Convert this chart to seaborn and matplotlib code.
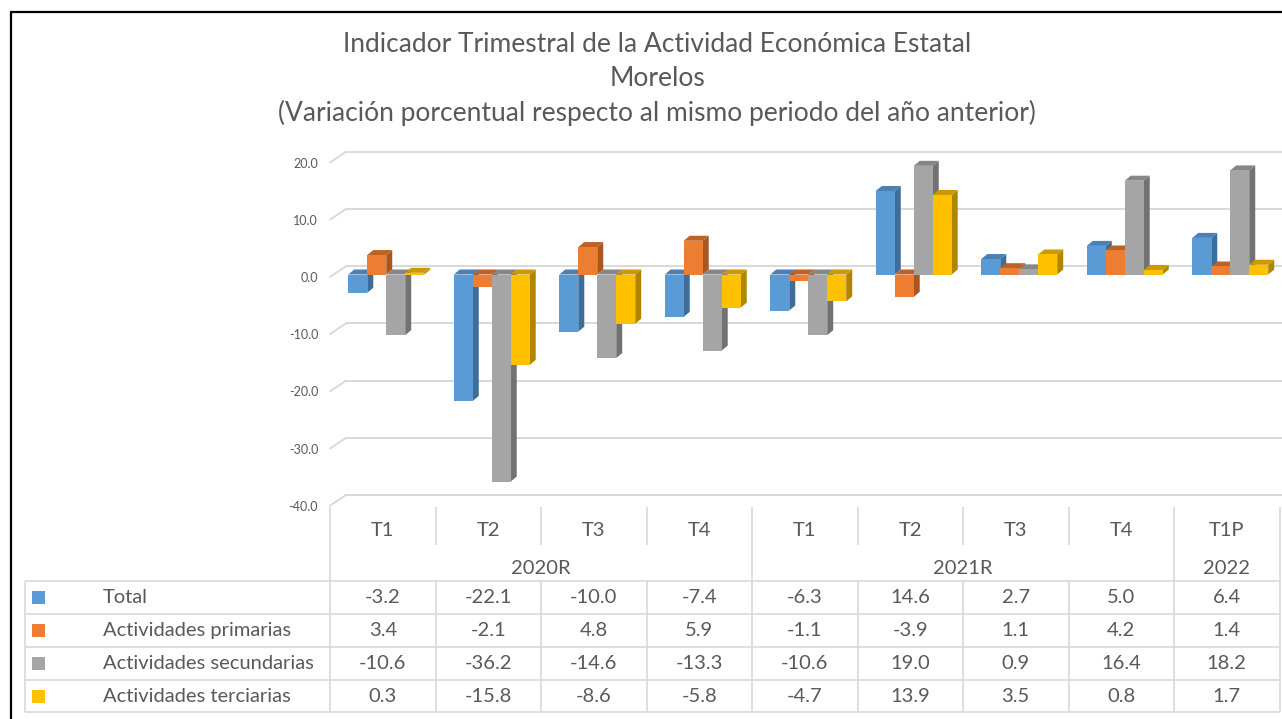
import numpy as np
import pandas as pd
import matplotlib
matplotlib.use("Agg")
import matplotlib.pyplot as plt
import seaborn as sns
from matplotlib.patches import Polygon, Rectangle
from matplotlib.lines import Line2D
from matplotlib.transforms import IdentityTransform, ScaledTranslation

# ---------------- data ----------------
quarters = ["T1", "T2", "T3", "T4", "T1", "T2", "T3", "T4", "T1P"]
years = ["2020R", "2021R", "2022"]
year_spans = [(0, 3), (4, 7), (8, 8)]
series = ["Total", "Actividades primarias", "Actividades secundarias", "Actividades terciarias"]
total = [-3.2, -22.1, -10.0, -7.4, -6.3, 14.6, 2.7, 5.0, 6.4]
primarias = [3.4, -2.1, 4.8, 5.9, -1.1, -3.9, 1.1, 4.2, 1.4]
secundarias = [-10.6, -36.2, -14.6, -13.3, -10.6, 19.0, 0.9, 16.4, 18.2]
terciarias = [0.3, -15.8, -8.6, -5.8, -4.7, 13.9, 3.5, 0.8, 1.7]
yticks = [20, 10, 0, -10, -20, -30, -40]

title_lines = ["Indicador Trimestral de la Actividad Económica Estatal",
               "Morelos",
               "(Variación porcentual respecto al mismo periodo del año anterior)"]

# ---------------- style ----------------
front_c = ["#5B9BD5", "#ED7D31", "#A5A5A5", "#FFC000"]
side_c = ["#3D6D98", "#A9561F", "#727272", "#B08500"]
top_c = ["#4A80B3", "#BE6127", "#868686", "#CC9A00"]
txt_c = "#595959"
grid_c = "#D9D9D9"
FONT = "Lato"

W, H = 1282, 719
DPI = 100
sns.set_theme(style="white")
plt.rcParams["font.family"] = [FONT, "DejaVu Sans"]

fig = plt.figure(figsize=(W / DPI, H / DPI), dpi=DPI)
fig.patch.set_facecolor("white")

# axes placement (pixels, top-origin)
ax_left, ax_right = 330, 1279.5
zero_px, px_per_unit = 274.5, 5.72
ymin, ymax = -40, 22
ax_top = zero_px - ymax * px_per_unit
ax_bot = zero_px - ymin * px_per_unit
ax = fig.add_axes([ax_left / W, 1 - ax_bot / H, (ax_right - ax_left) / W, (ax_bot - ax_top) / H])

# long-form data
idx = list(range(len(quarters)))
df = pd.DataFrame({
    "pos": idx * 4,
    "serie": sum([[s] * len(idx) for s in series], []),
    "valor": total + primarias + secundarias + terciarias,
})

sns.barplot(data=df, x="pos", y="valor", hue="serie", hue_order=series,
            palette=front_c, saturation=1, width=0.72, legend=False,
            errorbar=None, ax=ax, linewidth=0)

ax.set_xlim(-0.5, len(quarters) - 0.5)
ax.set_ylim(ymin, ymax)
ax.set_xlabel("")
ax.set_ylabel("")
ax.set_xticks([])
for s in ax.spines.values():
    s.set_visible(False)
ax.set_facecolor("none")

cat_px = (ax_right - ax_left) / len(quarters)
dx = 6 / cat_px           # depth in x (data units)
dy = 5 / px_per_unit      # depth in y (data units)
shift = 3.5 / cat_px

# 3D faces
for h_i, cont in enumerate(ax.containers):
    for p in cont.patches:
        p.set_x(p.get_x() + shift)
        x0 = p.get_x()
        w = p.get_width()
        y0 = min(p.get_y(), p.get_y() + p.get_height())
        y1 = max(p.get_y(), p.get_y() + p.get_height())
        cat = round(x0 + w / 2)
        z = 3 + cat * 0.1 + h_i * 0.01
        p.set_zorder(z + 0.005)
        p.set_edgecolor("none")
        side = Polygon([(x0 + w, y0), (x0 + w + dx, y0 + dy), (x0 + w + dx, y1 + dy), (x0 + w, y1)],
                       closed=True, facecolor=side_c[h_i], edgecolor="none", zorder=z)
        top = Polygon([(x0, y1), (x0 + dx, y1 + dy), (x0 + w + dx, y1 + dy), (x0 + w, y1)],
                      closed=True, facecolor=top_c[h_i], edgecolor="none", zorder=z)
        ax.add_patch(side)
        ax.add_patch(top)

# back-wall gridlines with perspective diagonal
gx = 16 / cat_px
goff = 1.45
for v in yticks:
    ax.plot([-0.5, -0.5 + gx], [v - 0.42, v + goff], color=grid_c, lw=1.4, zorder=1, clip_on=False)
    ax.plot([-0.5 + gx, 8.53], [v + goff, v + goff], color=grid_c, lw=1.4, zorder=1, clip_on=False)

# y tick labels
ax.set_yticks(yticks)
ax.set_yticklabels([f"{v:.1f}" for v in yticks])
ax.tick_params(axis="y", length=0, pad=8.5, labelsize=9, labelcolor=txt_c)
off = ScaledTranslation(0, -2.5 / DPI, fig.dpi_scale_trans)
for lab in ax.get_yticklabels():
    lab.set_transform(lab.get_transform() + off)
    lab.set_fontfamily([FONT, "DejaVu Sans"])

# ---------------- helpers (pixel coords, top-origin) ----------------
def line_px(xs, ys, color="#D9D9D9", lw=1.0):
    fig.add_artist(Line2D(xs, [H - y for y in ys], transform=IdentityTransform(),
                          color=color, lw=lw, solid_capstyle="butt"))

def text_px(x, y, s, **kw):
    fig.text(x, H - y, s, transform=IdentityTransform(), **kw)

def col_px(k):
    return ax.transData.transform((k, 0))[0]

# title
for s, y in zip(title_lines, [44, 78, 113]):
    text_px(657, y, s, ha="center", va="center", fontsize=19, color=txt_c)

# chart border (frame)
line_px([11, 11], [12, 719], color="black", lw=1.6)
line_px([10, 1282], [12, 12], color="black", lw=1.6)

# ---------------- data table ----------------
tbl_left = 25
edges = [col_px(k - 0.5) for k in range(len(quarters) + 1)]
row_lines = [581, 614, 647, 680, 712]
q_top, q_bot = 507, 545
tcol = "#D9D9D9"

# horizontal lines
for y in row_lines:
    line_px([tbl_left, edges[-1]], [y, y], color=tcol, lw=1.2)
# verticals in data rows
for x in [tbl_left] + edges:
    line_px([x, x], [row_lines[0], row_lines[-1]], color=tcol, lw=1.2)
# verticals in quarter header row
for x in edges:
    line_px([x, x], [q_top, q_bot], color=tcol, lw=1.2)
# verticals in year header row (group boundaries)
yb = sorted(set([edges[a] for a, b in year_spans] + [edges[b + 1] for a, b in year_spans]))
for x in yb:
    line_px([x, x], [q_bot, row_lines[0]], color=tcol, lw=1.2)

fs = 14.5
for k, q in enumerate(quarters):
    text_px(col_px(k), 531, q, ha="center", va="center", fontsize=fs, color=txt_c)
for (a, b), yr in zip(year_spans, years):
    text_px((col_px(a) + col_px(b)) / 2, 568, yr, ha="center", va="center", fontsize=fs, color=txt_c)

vals = [total, primarias, secundarias, terciarias]
row_centers = [(row_lines[i] + row_lines[i + 1]) / 2 for i in range(4)]
for i, (name, v) in enumerate(zip(series, vals)):
    yc = row_centers[i]
    fig.add_artist(Rectangle((32, H - yc - 6.5), 13, 13, transform=IdentityTransform(),
                             facecolor=front_c[i], edgecolor="none"))
    text_px(103, yc, name, ha="left", va="center", fontsize=fs, color=txt_c)
    for k, val in enumerate(v):
        text_px(col_px(k), yc, f"{val:.1f}", ha="center", va="center", fontsize=fs, color=txt_c)

fig.savefig("out.png", dpi=DPI, facecolor="white")
